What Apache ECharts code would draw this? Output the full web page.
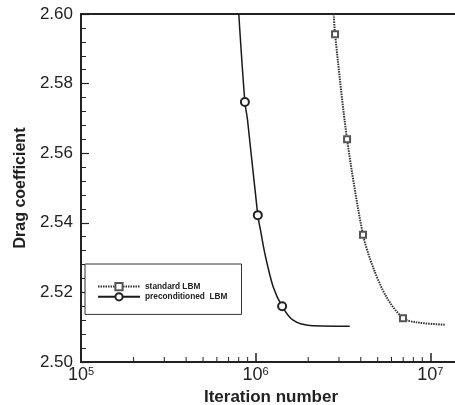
<!DOCTYPE html>
<html>
<head>
<meta charset="utf-8">
<script src="https://cdn.jsdelivr.net/npm/echarts@6/dist/echarts.min.js"></script>
<style>
  html, body { margin: 0; padding: 0; background: #fff; }
  #chart { width: 455px; height: 405px; }
</style>
</head>
<body>
<div id="chart"></div>
<script>
  // standard LBM (dotted, squares)
  var stdIter = [2.80e6, 2.85e6, 3.34e6, 4.12e6, 4.70e6, 5.61e6, 6.98e6, 8.33e6, 1.21e7];
  var stdDrag = [2.600, 2.5942, 2.5640, 2.5366, 2.5273, 2.5187, 2.5126, 2.5114, 2.5107];
  var stdMark = [false, true, true, true, false, false, true, false, false];

  // preconditioned LBM (solid, circles)
  var preIter = [8.01e5, 8.68e5, 8.99e5, 1.029e6, 1.067e6, 1.129e6, 1.26e6, 1.418e6, 1.639e6, 2.043e6, 3.46e6];
  var preDrag = [2.600, 2.5747, 2.5695, 2.5422, 2.5378, 2.5312, 2.5216, 2.5160, 2.5120, 2.5105, 2.5103];
  var preMark = [false, true, false, true, false, false, false, true, false, false, false];

  // minor ticks of the log axis
  var minorX = [2e5, 3e5, 4e5, 5e5, 6e5, 7e5, 8e5, 9e5, 2e6, 3e6, 4e6, 5e6, 6e6, 7e6, 8e6, 9e6];

  var FONT = 'Liberation Sans, Arial, sans-serif';

  function buildData(xs, ys, marks) {
    var out = [];
    for (var i = 0; i < xs.length; i++) {
      var item = { value: [xs[i], ys[i]] };
      if (!marks[i]) item.symbol = 'none';
      out.push(item);
    }
    return out;
  }

  var chart = echarts.init(document.getElementById('chart'));

  var option = {
    animation: false,
    backgroundColor: '#fff',
    grid: {
      left: 81, top: 14, bottom: 43, right: -6,
      outerBoundsMode: 'none',
      containLabel: false,
      show: true, borderColor: '#222', borderWidth: 2
    },
    legend: {
      data: ['standard LBM', 'preconditioned  LBM'],
      orient: 'vertical',
      left: 85, top: 264,
      padding: [18, 14, 13, 12],
      itemGap: 1,
      itemWidth: 42,
      itemHeight: 9,
      borderColor: '#333',
      borderWidth: 1,
      backgroundColor: '#fff',
      textStyle: { fontFamily: FONT, fontSize: 8.3, fontWeight: 'bold', color: '#222' }
    },
    xAxis: {
      type: 'log',
      logBase: 10,
      min: 1e5,
      max: 1.5e7,
      name: 'Iteration number',
      nameLocation: 'middle',
      nameGap: 24,
      nameTextStyle: { fontFamily: FONT, fontSize: 17, fontWeight: 'bold', color: '#222' },
      axisLine: { lineStyle: { color: '#222', width: 2 } },
      axisTick: { inside: true, length: 9, lineStyle: { color: '#222', width: 1.5 } },
      splitLine: { show: false },
      axisLabel: {
        showMaxLabel: false,
        margin: 4,
        formatter: function (v) {
          return '{a|10}{b|' + Math.round(Math.log10(v)) + '}';
        },
        rich: {
          a: { fontFamily: FONT, fontSize: 18, color: '#222' },
          b: { fontFamily: FONT, fontSize: 11, color: '#222', verticalAlign: 'top' }
        }
      }
    },
    yAxis: {
      type: 'value',
      min: 2.5,
      max: 2.6,
      interval: 0.02,
      name: 'Drag coefficient',
      nameLocation: 'middle',
      nameGap: 47,
      nameTextStyle: { fontFamily: FONT, fontSize: 16, fontWeight: 'bold', color: '#222' },
      axisLine: { show: true, lineStyle: { color: '#222', width: 2 } },
      axisTick: { inside: true, length: 8, lineStyle: { color: '#222', width: 1.2 } },
      minorTick: { show: true, splitNumber: 5, length: 5, lineStyle: { color: '#222', width: 1 } },
      splitLine: { show: false },
      axisLabel: {
        margin: 8,
        fontFamily: FONT, fontSize: 17, color: '#222',
        formatter: function (v) { return v.toFixed(2); }
      }
    },
    series: [
      {
        name: 'standard LBM',
        type: 'line',
        data: buildData(stdIter, stdDrag, stdMark),
        smooth: 0.3,
        symbol: 'emptyRect',
        symbolSize: 6,
        showAllSymbol: true,
        itemStyle: { color: '#555', borderWidth: 1 },
        lineStyle: { color: '#333', width: 2, type: [1.5, 1] }
      },
      {
        name: 'preconditioned  LBM',
        type: 'line',
        data: buildData(preIter, preDrag, preMark),
        smooth: 0.3,
        symbol: 'emptyCircle',
        symbolSize: 8,
        showAllSymbol: true,
        itemStyle: { color: '#222', borderWidth: 1 },
        lineStyle: { color: '#1a1a1a', width: 1.5 }
      },
      {
        name: 'minor',
        type: 'custom',
        silent: true,
        data: minorX.map(function (x) { return [x, 2.5]; }),
        renderItem: function (params, api) {
          var p = api.coord([api.value(0), api.value(1)]);
          return {
            type: 'line',
            shape: { x1: p[0], y1: p[1], x2: p[0], y2: p[1] - 5 },
            style: { stroke: '#222', lineWidth: 1 }
          };
        }
      }
    ]
  };

  chart.setOption(option);
</script>
</body>
</html>
